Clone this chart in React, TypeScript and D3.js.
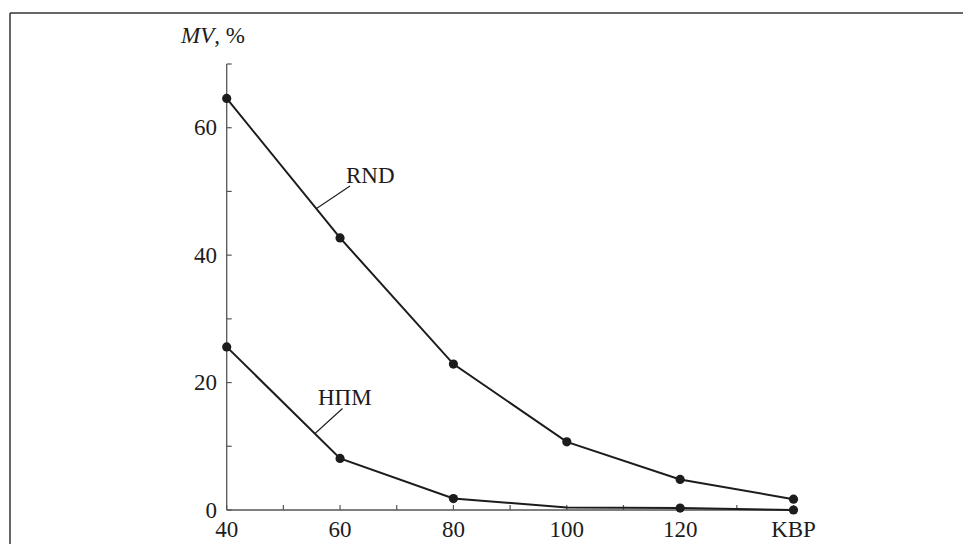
import React from 'react';
import * as d3 from 'd3';

// x positions (last one is drawn with the label "KBP")
const xValues = [40, 60, 80, 100, 120, 140];
const xTickLabels = ['40', '60', '80', '100', '120', 'KBP'];
const yTickValues = [0, 20, 40, 60];

// MV, %
const rndValues = [64.6, 42.7, 22.9, 10.7, 4.8, 1.7];
const npmValues = [25.6, 8.1, 1.8, 0.4, 0.3, 0.0];
// the НПМ point at 100 has no visible marker in the figure
const npmMarked = [true, true, true, false, true, true];

const W = 963;
const H = 544;
const FONT = "'Liberation Serif', 'Times New Roman', serif";
const FS = 23;
const INK = '#1c1c1c';
const AXIS = '#555';

export default function App() {
  const x = d3.scaleLinear().domain([40, 140]).range([226.7, 793.5]);
  const y = d3.scaleLinear().domain([0, 70]).range([510, 64]);

  const line = d3.line<number>()
    .x((_, i) => x(xValues[i]))
    .y(d => y(d));

  const minorX = d3.range(40, 141, 10);
  const minorY = d3.range(0, 71, 10);

  return (
    <svg width={W} height={H}
      style={{ position: 'absolute', left: 0, top: 0, background: '#fff', fontFamily: FONT }}>
      {/* frame */}
      <line x1={10} y1={13} x2={W} y2={13} stroke="#333" strokeWidth={1.5} />
      <line x1={10} y1={13} x2={10} y2={H} stroke="#333" strokeWidth={1.5} />

      {/* axes */}
      <line x1={x(40)} y1={y(0)} x2={x(140)} y2={y(0)} stroke={AXIS} strokeWidth={1.3} />
      <line x1={x(40)} y1={y(0)} x2={x(40)} y2={y(70)} stroke={AXIS} strokeWidth={1.3} />
      {minorX.map(v => (
        <line key={'tx' + v} x1={x(v)} x2={x(v)} y1={y(0)} y2={y(0) - 5} stroke={AXIS} strokeWidth={1.2} />
      ))}
      {minorY.map(v => (
        <line key={'ty' + v} x1={x(40)} x2={x(40) + 5} y1={y(v)} y2={y(v)} stroke={AXIS} strokeWidth={1.2} />
      ))}
      {xValues.map((v, i) => (
        <text key={'lx' + v} x={x(v)} y={537} textAnchor="middle" fontSize={FS} fill={INK}>
          {xTickLabels[i]}
        </text>
      ))}
      {yTickValues.map(v => (
        <text key={'ly' + v} x={217} y={y(v) + 7.5} textAnchor="end" fontSize={FS} fill={INK}>
          {v}
        </text>
      ))}
      <text x={181} y={43} fontSize={FS} fill={INK}>
        <tspan fontStyle="italic">MV</tspan>, %
      </text>

      {/* series */}
      <path d={line(rndValues) || ''} fill="none" stroke={INK} strokeWidth={2} />
      <path d={line(npmValues) || ''} fill="none" stroke={INK} strokeWidth={2} />
      {rndValues.map((v, i) => (
        <circle key={'r' + i} cx={x(xValues[i])} cy={y(v)} r={4.6} fill={INK} />
      ))}
      {npmValues.map((v, i) => npmMarked[i] ? (
        <circle key={'n' + i} cx={x(xValues[i])} cy={y(v)} r={4.6} fill={INK} />
      ) : null)}

      {/* series labels with leaders */}
      <line x1={350} y1={186} x2={316.5} y2={208.5} stroke={INK} strokeWidth={1.1} />
      <text x={346} y={183} fontSize={FS} fill={INK}>RND</text>
      <line x1={342.5} y1={408.5} x2={315} y2={433.5} stroke={INK} strokeWidth={1.1} />
      <text x={318} y={405} fontSize={FS} fill={INK}>НПМ</text>
    </svg>
  );
}
